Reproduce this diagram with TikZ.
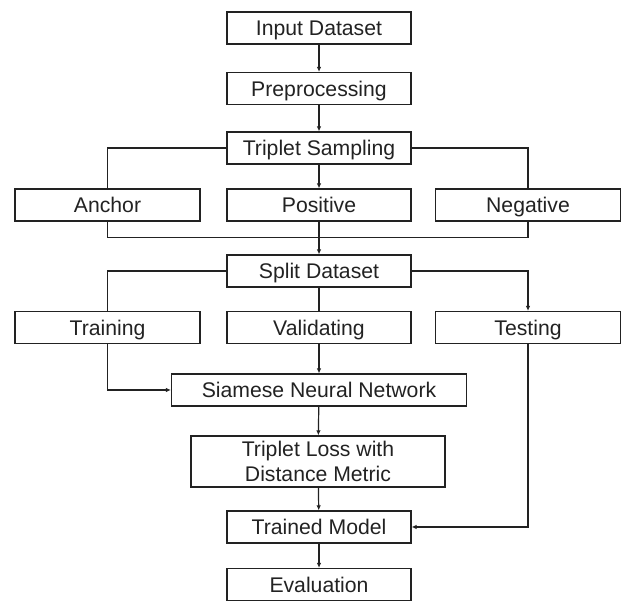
\documentclass[tikz,border=0pt]{standalone}
\usepackage{fontspec}
\setmainfont{Liberation Sans}
\usetikzlibrary{arrows.meta}
\definecolor{ink}{HTML}{222222}
\begin{document}
\begin{tikzpicture}[x=1pt,y=-1pt,
  base/.style={draw=ink,line width=1.2pt,text=ink,inner sep=0pt,
    font=\fontsize{21.2}{25}\selectfont,align=center},
  box/.style={base,minimum height=32pt,text height=15.2pt,text depth=0pt},
  mid/.style={box,minimum width=184pt},
  side/.style={box,minimum width=185pt},
  link/.style={draw=ink,line width=1.2pt},
  arr/.style={link,-{Latex[length=5pt,width=4.5pt]}}]
\useasboundingbox (0,0) rectangle (622,601);
\node[mid] (in) at (319,28) {Input Dataset};
\node[mid] (pre) at (319,88.5) {Preprocessing};
\node[mid] (ts) at (319,148) {Triplet Sampling};
\node[side] (anc) at (107.5,205) {Anchor};
\node[mid] (pos) at (319,205) {Positive};
\node[side] (neg) at (528,205) {Negative};
\coordinate (j) at (319,237.5);
\node[mid] (split) at (319,271) {Split Dataset};
\node[side] (tr) at (107.5,327.5) {Training};
\node[mid] (val) at (319,327.5) {Validating};
\node[side] (te) at (528,327.5) {Testing};
\node[box,minimum width=295pt] (sia) at (319,390) {Siamese Neural Network};
\node[base,minimum width=254pt,minimum height=51pt] (tl) at (318,461.5) {Triplet Loss with\\Distance Metric};
\node[mid] (tm) at (319,527) {Trained Model};
\node[mid] (ev) at (319,584.5) {Evaluation};

\draw[arr] (in) -- (pre);
\draw[arr] (pre) -- (ts);
\draw[link] (ts.west) -| (anc.north);
\draw[link] (ts.east) -| (neg.north);
\draw[arr] (ts) -- (pos);
\draw[link] (anc.south) |- (j) -| (neg.south);
\draw[arr] (pos.south) -- (split.north);
\draw[link] (split.west) -| (tr.north);
\draw[link] (split) -- (val);
\draw[arr] (split.east) -| (te.north);
\draw[arr] (tr.south) |- (sia.west);
\draw[arr] (val) -- (sia);
\draw[arr] (te.south) |- (tm.east);
\draw[arr] (sia) -- (tl);
\draw[arr] (tl) -- (tm);
\draw[arr] (tm) -- (ev);
\end{tikzpicture}
\end{document}
